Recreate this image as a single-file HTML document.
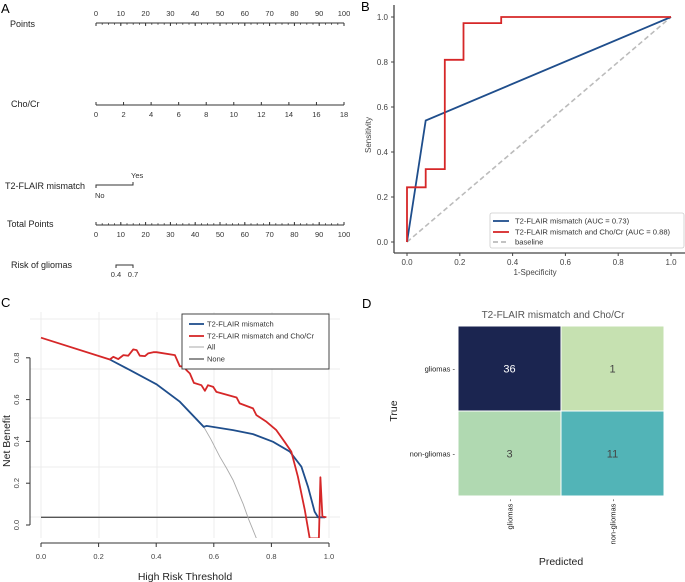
<!DOCTYPE html>
<html><head><meta charset="utf-8"><style>
body{margin:0;background:#fff}
svg{display:block;font-family:"Liberation Sans",Arial,sans-serif}
</style></head><body>
<svg id="fig" width="685" height="582" viewBox="0 0 685 582">
<rect width="685" height="582" fill="#fff"/>
<text x="1" y="13" font-size="13">A</text>
<text x="361" y="11" font-size="13">B</text>
<text x="1" y="307" font-size="13">C</text>
<text x="362" y="308" font-size="13">D</text>
<g id="A"></g>
<g id="B"></g>
<g id="C"></g>
<g id="D"></g>
</svg>
<script>
// ROC data
const rocBlueX=[0,0.071,1];
const rocBlueY=[0,0.54,1];
const rocRedX=[0,0,0.071,0.071,0.143,0.143,0.214,0.214,0.357,0.357,1];
const rocRedY=[0,0.243,0.243,0.324,0.324,0.81,0.81,0.973,0.973,1,1];
const rocTicks=[0,0.2,0.4,0.6,0.8,1.0];
// DCA data
const dcaRedX=[0,0.239,0.251,0.268,0.286,0.303,0.32,0.332,0.343,0.361,0.372,0.39,0.401,0.465,0.482,0.497,0.505,0.517,0.531,0.557,0.569,0.58,0.598,0.609,0.679,0.69,0.736,0.748,0.783,0.817,0.846,0.869,0.892,0.916,0.933,0.965,0.97,0.977,0.991];
const dcaRedY=[0.896,0.792,0.805,0.794,0.813,0.81,0.84,0.837,0.81,0.808,0.821,0.827,0.827,0.813,0.76,0.757,0.741,0.725,0.68,0.669,0.642,0.669,0.661,0.637,0.61,0.582,0.558,0.526,0.494,0.454,0.398,0.351,0.231,0.072,-0.064,-0.064,0.228,0.04,0.037];
const dcaBlueX=[0.239,0.32,0.401,0.482,0.565,0.575,0.667,0.736,0.806,0.864,0.904,0.927,0.95,0.962,0.986];
const dcaBlueY=[0.792,0.733,0.673,0.59,0.47,0.474,0.454,0.435,0.398,0.351,0.279,0.183,0.064,0.037,0.037];
const dcaAllX=[0.565,0.59,0.621,0.645,0.667,0.685,0.702,0.72,0.735,0.748];
const dcaAllY=[0.47,0.41,0.327,0.27,0.215,0.155,0.1,0.03,-0.02,-0.064];
const dcaNoneX=[0,0.986];
const dcaNoneY=[0.037,0.037];
const dcaXTicks=[0,0.2,0.4,0.6,0.8,1.0];
const dcaYTicks=[0,0.2,0.4,0.6,0.8];
// Confusion matrix
const cmLabels=["gliomas","non-gliomas"];
const cmValues=[[36,1],[3,11]];
// Nomogram scales
const pointsTicks=[0,10,20,30,40,50,60,70,80,90,100];
const choTicks=[0,2,4,6,8,10,12,14,16,18];

const NS="http://www.w3.org/2000/svg";
function mk(p,tag,a,txt){const e=document.createElementNS(NS,tag);for(const k in a)e.setAttribute(k,a[k]);if(txt!==undefined)e.textContent=txt;p.appendChild(e);return e;}
function poly(xs,ys,fx,fy){return xs.map((v,i)=>fx(v).toFixed(1)+","+fy(ys[i]).toFixed(1)).join(" ");}

// ---------- Panel A ----------
(function(){
const g=document.getElementById('A');
const px=v=>96+v*2.48;
function lbl(x,y,t,n){const e=mk(g,'text',{x:x,y:y,'font-size':9,fill:'#222'},t);}
lbl(10,27,'Points','points-label');
lbl(11,107,'Cho/Cr','cho-cr-label');
lbl(5,189,'T2-FLAIR mismatch','t2-flair-label');
lbl(7,227,'Total Points','total-points-label');
lbl(11,268,'Risk of gliomas','risk-label');
function scale(y,labY,ticks,fx,minorStep,name){
  const gg=mk(g,'g',{});
  
  mk(gg,'line',{x1:96,x2:344,y1:y,y2:y,stroke:'#333','stroke-width':1});
  const dir=labY<y?-1:1;
  ticks.forEach(t=>{mk(gg,'line',{x1:fx(t),x2:fx(t),y1:y,y2:y-dir*3,stroke:'#333'});
    mk(gg,'text',{x:fx(t),y:labY,'font-size':7.5,'text-anchor':'middle',fill:'#333'},t);});
  if(minorStep){for(let v=0;v<=100;v+=minorStep){mk(gg,'line',{x1:fx(v),x2:fx(v),y1:y,y2:y-dir*1.8,stroke:'#333','stroke-width':0.8});}}
}
scale(23,16,pointsTicks,px,2.5,'points-scale');
scale(105,117,choTicks,v=>96+v*248/18,0,'cho-cr-scale');
scale(225,237,pointsTicks,px,2.5,'total-points-scale');
const t=mk(g,'g',{});
mk(t,'path',{d:'M96,188 V185 H133 V182',stroke:'#333',fill:'none'});
mk(t,'text',{x:131,y:178,'font-size':7.5,fill:'#333'},'Yes');
mk(t,'text',{x:95,y:198,'font-size':7.5,fill:'#333'},'No');
const r=mk(g,'g',{});
mk(r,'path',{d:'M116,268 V265 H133 V268',stroke:'#333',fill:'none'});
mk(r,'text',{x:116,y:277,'font-size':7.5,'text-anchor':'middle',fill:'#333'},'0.4');
mk(r,'text',{x:133,y:277,'font-size':7.5,'text-anchor':'middle',fill:'#333'},'0.7');
})();

// ---------- Panel B ----------
(function(){
const g=document.getElementById('B');
const fx=v=>407+v*264, fy=v=>242-v*225;
mk(g,'line',{x1:394,x2:394,y1:5,y2:253,stroke:'#444','stroke-width':1.3});
mk(g,'line',{x1:394,x2:685,y1:253,y2:253,stroke:'#444','stroke-width':1.3});
rocTicks.forEach(t=>{
  mk(g,'line',{x1:391,x2:394,y1:fy(t),y2:fy(t),stroke:'#444'});
  const a=mk(g,'text',{x:388,y:fy(t)+3,'font-size':8,'text-anchor':'end',fill:'#444'},t.toFixed(1));
  
  mk(g,'line',{x1:fx(t),x2:fx(t),y1:253,y2:256,stroke:'#444'});
  const b=mk(g,'text',{x:fx(t),y:265,'font-size':8,'text-anchor':'middle',fill:'#444'},t.toFixed(1));
  
});
const yt=mk(g,'text',{x:0,y:0,'font-size':8,'text-anchor':'middle',fill:'#444',transform:'translate(371,135) rotate(-90)'},'Sensitivity');

const xt=mk(g,'text',{x:535,y:275,'font-size':8,'text-anchor':'middle',fill:'#444'},'1-Specificity');

const base=mk(g,'line',{x1:fx(0),y1:fy(0),x2:fx(1),y2:fy(1),stroke:'#bbb','stroke-width':1.6,'stroke-dasharray':'5,3'});

const bl=mk(g,'polyline',{points:poly(rocBlueX,rocBlueY,fx,fy),fill:'none',stroke:'#1f4e8c','stroke-width':1.8});

const rd=mk(g,'polyline',{points:poly(rocRedX,rocRedY,fx,fy),fill:'none',stroke:'#d62728','stroke-width':1.8});

const lg=mk(g,'g',{});
mk(lg,'rect',{x:490,y:213,width:194,height:35,fill:'#fff',stroke:'#ccc','stroke-width':0.8,rx:2});
[['#1f4e8c','T2-FLAIR mismatch (AUC = 0.73)',221,''],['#d62728','T2-FLAIR mismatch and Cho/Cr (AUC = 0.88)',232,''],['#bbb','baseline',242,'5,3']].forEach(e=>{
  mk(lg,'line',{x1:493,x2:509,y1:e[2],y2:e[2],stroke:e[0],'stroke-width':1.8,'stroke-dasharray':e[3]});
  const t=mk(lg,'text',{x:515,y:e[2]+2.7,'font-size':7.6,fill:'#333'},e[1]);
  
});
})();

// ---------- Panel C ----------
(function(){
const g=document.getElementById('C');
const fx=v=>41+v*288, fy=v=>525-v*209;
[319,369,418,467,517].forEach(y=>mk(g,'line',{x1:30,x2:340,y1:y,y2:y,stroke:'#ececec','stroke-width':1}));
[41,99,157,214,272,329].forEach(x=>mk(g,'line',{x1:x,x2:x,y1:312,y2:538,stroke:'#ececec','stroke-width':1}));
mk(g,'defs',{}).innerHTML='<clipPath id="cc"><rect x="30" y="305" width="312" height="233"/></clipPath>';
const pl=mk(g,'g',{'clip-path':'url(#cc)'});
const n=mk(pl,'polyline',{points:poly(dcaNoneX,dcaNoneY,fx,fy),fill:'none',stroke:'#555','stroke-width':1.3});

const a=mk(pl,'polyline',{points:poly(dcaAllX,dcaAllY,fx,fy),fill:'none',stroke:'#aaa','stroke-width':0.9});

const b=mk(pl,'polyline',{points:poly(dcaBlueX,dcaBlueY,fx,fy),fill:'none',stroke:'#1f4e8c','stroke-width':1.8});

const r=mk(pl,'polyline',{points:poly(dcaRedX,dcaRedY,fx,fy),fill:'none',stroke:'#d62728','stroke-width':1.8,'stroke-linejoin':'round'});

mk(g,'line',{x1:30,x2:30,y1:fy(0.8),y2:fy(0),stroke:'#333'});
dcaYTicks.forEach(t=>{mk(g,'line',{x1:26,x2:30,y1:fy(t),y2:fy(t),stroke:'#333'});
  const e=mk(g,'text',{'font-size':7.5,'text-anchor':'middle',fill:'#444',transform:`translate(19,${fy(t)}) rotate(-90)`},t.toFixed(1));
  });
mk(g,'line',{x1:fx(0),x2:fx(1),y1:543,y2:543,stroke:'#333'});
dcaXTicks.forEach(t=>{mk(g,'line',{x1:fx(t),x2:fx(t),y1:543,y2:547,stroke:'#333'});
  const e=mk(g,'text',{x:fx(t),y:559,'font-size':7.5,'text-anchor':'middle',fill:'#444'},t.toFixed(1));
  });
const xt=mk(g,'text',{x:185,y:580,'font-size':10.5,'text-anchor':'middle',fill:'#222'},'High Risk Threshold');

const yt=mk(g,'text',{'font-size':10.5,'text-anchor':'middle',fill:'#222',transform:'translate(10,441) rotate(-90)'},'Net Benefit');

const lg=mk(g,'g',{});
mk(lg,'rect',{x:182,y:314,width:147,height:55,fill:'#fff',stroke:'#333','stroke-width':0.9});
[['#1f4e8c','T2-FLAIR mismatch',324,1.8],['#d62728','T2-FLAIR mismatch and Cho/Cr',336,1.8],['#aaa','All',347,1],['#555','None',359,1.3]].forEach(e=>{
  mk(lg,'line',{x1:189,x2:204,y1:e[2],y2:e[2],stroke:e[0],'stroke-width':e[3]});
  const t=mk(lg,'text',{x:207,y:e[2]+2.7,'font-size':7.5,fill:'#333'},e[1]);
  
});
})();

// ---------- Panel D ----------
(function(){
const g=document.getElementById('D');
const x0=458,y0=326,cw=103,ch=85;
const maxV=36;
function col(v){
  const stops=[[0,[199,233,180]],[0.1,[127,205,187]],[0.35,[65,182,196]],[0.6,[34,94,168]],[1,[27,38,83]]];
  const f=v/maxV;let i=0;while(i<stops.length-2&&f>stops[i+1][0])i++;
  const a=stops[i],b=stops[i+1],t=(f-a[0])/(b[0]-a[0]);
  return 'rgb('+a[1].map((c,k)=>Math.round(c+(b[1][k]-c)*t)).join(',')+')';
}
const fixed={36:'#1b2550',1:'#c6e1b1',3:'#b0d9b1',11:'#52b4b7'};
cmValues.forEach((row,i)=>row.forEach((v,j)=>{
  const c=mk(g,'rect',{x:x0+j*cw,y:y0+i*ch,width:cw,height:ch,fill:fixed[v]||col(v),stroke:'#fff','stroke-width':1});
  
  const t=mk(g,'text',{x:x0+j*cw+cw/2,y:y0+i*ch+ch/2+4,'font-size':11,'text-anchor':'middle',fill:v>20?'#fff':'#444'},v);
  
}));
cmLabels.forEach((l,i)=>{
  const t=mk(g,'text',{x:455,y:y0+i*ch+ch/2+3,'font-size':7.5,'text-anchor':'end',fill:'#222'},l+' -');
  
  const u=mk(g,'text',{'font-size':7.5,'text-anchor':'end',fill:'#222',transform:`translate(${x0+i*cw+cw/2+3},499) rotate(-90)`},l+' -');
  
});
const tt=mk(g,'text',{x:553,y:318,'font-size':10,'text-anchor':'middle',fill:'#555'},'T2-FLAIR mismatch and Cho/Cr');

const yt=mk(g,'text',{'font-size':10.5,'text-anchor':'middle',fill:'#222',transform:'translate(397,411) rotate(-90)'},'True');

const xt=mk(g,'text',{x:561,y:565,'font-size':10.5,'text-anchor':'middle',fill:'#222'},'Predicted');

})();
</script>
</body></html>
